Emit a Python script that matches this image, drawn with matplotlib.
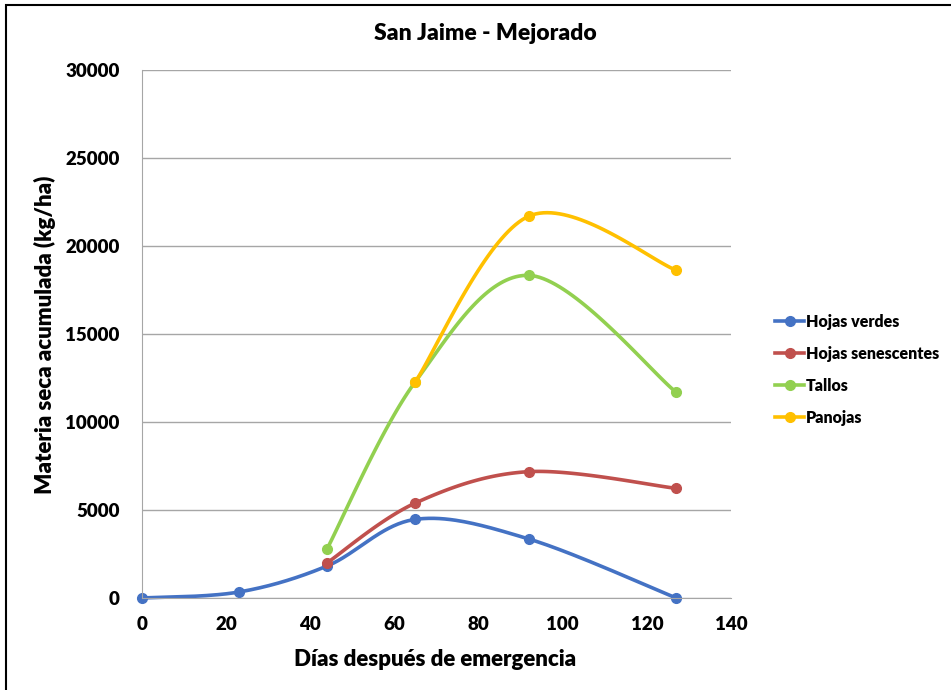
import numpy as np
import matplotlib.pyplot as plt
from matplotlib.patches import Rectangle

# Datos (días después de emergencia, kg/ha)
dias_verdes = [0, 23, 44, 65, 92, 127]
hojas_verdes = [0, 340, 1820, 4470, 3350, 0]

dias_otros = [44, 65, 92, 127]
hojas_senescentes = [2000, 5400, 7180, 6230]
tallos = [2800, 12300, 18330, 11680]

dias_panojas = [65, 92, 127]
panojas = [12300, 21700, 18620]

SERIES = [
    ("Hojas verdes", dias_verdes, hojas_verdes, "#4472C4"),
    ("Hojas senescentes", dias_otros, hojas_senescentes, "#C0504D"),
    ("Tallos", dias_otros, tallos, "#92D050"),
    ("Panojas", dias_panojas, panojas, "#FFC000"),
]

FONT = "Lato"
WEIGHT = "heavy"
LINE_WIDTH = 2.6
MARKER_SIZE = 7


def smooth_line(x, y, n=40):
    """Curva suavizada tipo Excel (Bezier con tangentes Catmull-Rom)."""
    p = np.column_stack([x, y]).astype(float)
    pts = [p[0]]
    for i in range(len(p) - 1):
        p0 = p[i - 1] if i > 0 else p[i]
        p1, p2 = p[i], p[i + 1]
        p3 = p[i + 2] if i + 2 < len(p) else p[i + 1]
        c1 = p1 + (p2 - p0) / 6
        c2 = p2 - (p3 - p1) / 6
        t = np.linspace(0, 1, n)[1:, None]
        seg = ((1 - t) ** 3 * p1 + 3 * (1 - t) ** 2 * t * c1
               + 3 * (1 - t) * t ** 2 * c2 + t ** 3 * p2)
        pts.extend(seg)
    pts = np.array(pts)
    return pts[:, 0], pts[:, 1]


fig = plt.figure(figsize=(9.51, 6.9), dpi=100)
ax = fig.add_axes([0.1493, 0.1333, 0.6194, 0.7653])

for name, xs, ys, color in SERIES:
    sx, sy = smooth_line(xs, ys)
    ax.plot(sx, sy, color=color, linewidth=LINE_WIDTH, solid_capstyle='round', clip_on=False)
    ax.plot(xs, ys, linestyle='none', marker='o', color=color, markersize=MARKER_SIZE, clip_on=False)
    ax.plot([], [], color=color, linewidth=LINE_WIDTH, marker='o', markersize=MARKER_SIZE, label=name)

ax.set_xlim(0, 140)
ax.set_ylim(0, 30000)
ax.set_xticks(np.arange(0, 141, 20))
ax.set_yticks(np.arange(0, 30001, 5000))
ax.yaxis.grid(True, color='#A6A6A6', linewidth=1)
ax.set_axisbelow(True)
for s in ['top', 'right']:
    ax.spines[s].set_visible(False)
ax.spines['left'].set_color('#A6A6A6')
ax.spines['bottom'].set_color('#A6A6A6')
ax.tick_params(axis='y', length=0, pad=16)
ax.tick_params(axis='x', length=0, pad=13)
for lab in ax.get_xticklabels() + ax.get_yticklabels():
    lab.set_fontfamily(FONT)
    lab.set_fontweight(WEIGHT)
    lab.set_fontsize(13.5)

fig.text(0.51, 0.952, "San Jaime - Mejorado", fontfamily=FONT, fontweight=WEIGHT,
         fontsize=16.5, ha='center', va='center')
ax.set_xlabel("Días después de emergencia", fontfamily=FONT, fontweight=WEIGHT, fontsize=16)
ax.set_ylabel("Materia seca acumulada (kg/ha)", fontfamily=FONT, fontweight=WEIGHT, fontsize=16)
ax.xaxis.set_label_coords(0.497, -0.117)
ax.yaxis.set_label_coords(-0.165, 0.498)
ax.xaxis.label.set_va('center')
ax.yaxis.label.set_va('center')

ax.legend(loc='center left', bbox_to_anchor=(1.075, 0.432), frameon=False,
          prop={'family': FONT, 'weight': WEIGHT, 'size': 11.5},
          handlelength=1.8, handletextpad=0.1, labelspacing=1.0,
          borderaxespad=0, borderpad=0)

fig.patches.append(Rectangle((0.006, -0.05), 1.5, 1.043, transform=fig.transFigure,
                             fill=False, edgecolor='black', linewidth=1.5))

fig.savefig("out.png", dpi=100)
